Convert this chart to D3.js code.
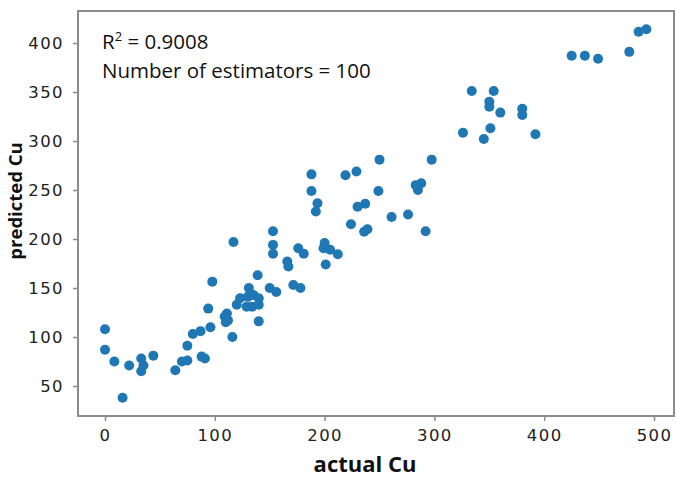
<!DOCTYPE html>
<html>
<head>
<meta charset="utf-8">
<script src="https://cdn.jsdelivr.net/npm/d3@7"></script>
<style>
  html, body { margin: 0; padding: 0; background: #fff; }
  svg { display: block; }
</style>
</head>
<body>
<svg id="chart" width="676" height="477"></svg>
<script>
// ---- data ----
const actualCu = [
  0, 0, 8.5, 22, 16, 33, 35, 33, 44, 64, 70, 75, 75, 80, 87, 96, 88, 91, 94, 97.7,
  109, 110, 116, 117, 111, 112,
  120, 123, 130, 135, 140, 129, 134, 140, 131, 139, 140,
  153, 153, 153, 150, 156, 166, 167, 171.5, 178, 176, 181,
  188, 188, 193.5, 192, 200, 199, 205, 212, 201,
  219, 229, 250, 249, 230, 237, 224, 236, 239, 261, 276, 283, 288, 285, 292, 297.5,
  326, 334, 354, 350, 350, 360, 351, 345, 380, 380, 392,
  425, 437, 449, 477.5, 486, 493
];
const predictedCu = [
  108, 87, 75, 71, 38, 78, 71, 65, 81, 66, 75, 76, 91, 103, 106, 110, 80, 78, 129, 156.5,
  121, 115, 100, 197, 124, 117,
  133, 139.5, 141, 143, 139.5, 131, 131, 133, 150, 163, 116,
  208, 194, 185, 150, 146, 177, 172, 153, 150, 190.5, 185,
  266, 249, 236.5, 228, 196, 190.5, 189, 184.5, 174,
  265, 269, 281, 249, 233, 236, 215, 207.5, 210, 222.5, 225, 255, 257, 250, 208, 281,
  308.5, 351, 351, 340, 335, 329, 313, 302, 333, 326.5, 307,
  387, 387, 384, 391, 411.5, 414
];
const xTicks = [0, 100, 200, 300, 400, 500];
const yTicks = [50, 100, 150, 200, 250, 300, 350, 400];
const xLabel = "actual Cu";
const yLabel = "predicted Cu";
const r2Text = "0.9008";
const estimatorsText = "Number of estimators = 100";

const points = actualCu.map((a, i) => ({ a, p: predictedCu[i] }));

// ---- layout ----
const mLeft = 78, mRight = 674, mTop = 11, mBottom = 416;
const x = d3.scaleLinear().domain([-24.6, 518.2]).range([mLeft, mRight]);
const y = d3.scaleLinear().domain([19.4, 432.7]).range([mBottom, mTop]);

const svg = d3.select("#chart");

// frame
svg.append("rect")
  .attr("x", mLeft).attr("y", mTop)
  .attr("width", mRight - mLeft).attr("height", mBottom - mTop)
  .attr("fill", "#fff")
  .attr("stroke", "#8c8c8c").attr("stroke-width", 2);

// axes
const tickFont = "'DejaVu Sans', Verdana, sans-serif";
const xAxis = d3.axisBottom(x).tickValues(xTicks).tickSize(5).tickPadding(8);
const yAxis = d3.axisLeft(y).tickValues(yTicks).tickSize(5).tickPadding(9);

const gx = svg.append("g").attr("transform", `translate(0,${mBottom})`).call(xAxis);
const gy = svg.append("g").attr("transform", `translate(${mLeft},0)`).call(yAxis);
[gx, gy].forEach(g => {
  g.select(".domain").remove();
  g.selectAll(".tick line").attr("stroke", "#8c8c8c").attr("stroke-width", 1.5);
  g.selectAll(".tick text")
    .attr("fill", "#222")
    .style("font-family", tickFont)
    .style("font-size", "16.5px")
    .style("letter-spacing", "1.4px");
});

// points
svg.append("g")
  .selectAll("circle")
  .data(points)
  .join("circle")
  .attr("cx", d => x(d.a))
  .attr("cy", d => y(d.p))
  .attr("r", 5)
  .attr("fill", "#1f77b4");

// axis labels
svg.append("text")
  .attr("x", 365).attr("y", 472)
  .attr("text-anchor", "middle")
  .style("font-family", "'Open Sans', sans-serif")
  .style("font-weight", "bold")
  .style("font-size", "22px")
  .attr("fill", "#111")
  .text(xLabel);

svg.append("text")
  .attr("transform", "translate(22,201) rotate(-90)")
  .attr("text-anchor", "middle")
  .style("font-family", "'Open Sans', sans-serif")
  .style("font-weight", "bold")
  .style("font-size", "18.5px")
  .attr("fill", "#111")
  .text(yLabel);

// annotation
const ann = svg.append("text")
  .attr("x", 102).attr("y", 49)
  .style("font-family", "'Open Sans', sans-serif")
  .style("font-size", "20.5px")
  .attr("fill", "#111");
ann.append("tspan").text("R");
ann.append("tspan").attr("dy", -8).style("font-size", "13px").text("2");
ann.append("tspan").attr("dy", 8).text(" = " + r2Text);

svg.append("text")
  .attr("x", 102).attr("y", 78)
  .style("font-family", "'Open Sans', sans-serif")
  .style("font-size", "20.5px")
  .attr("fill", "#111")
  .text(estimatorsText);
</script>
</body>
</html>
